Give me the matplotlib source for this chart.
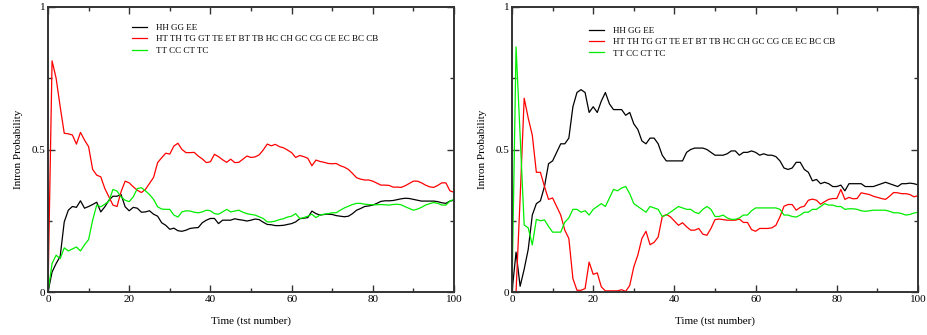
import numpy as np
import matplotlib
matplotlib.use("Agg")
import matplotlib.pyplot as plt
from matplotlib.ticker import MultipleLocator

plt.rcParams['font.family'] = ['Liberation Serif', 'DejaVu Serif']

time = list(range(101))

labels = ["HH GG EE",
          "HT TH TG GT TE ET BT TB HC CH GC CG CE EC BC CB",
          "TT CC CT TC"]
colors = ["#000000", "#ff0000", "#00ee00"]

# Run 1
run1_same = [0, 0.07, 0.10, 0.125, 0.246, 0.287, 0.30, 0.297, 0.32, 0.294,
             0.30, 0.307, 0.315, 0.281, 0.299, 0.322, 0.336, 0.336, 0.342, 0.299,
             0.285, 0.297, 0.294, 0.28, 0.281, 0.285, 0.273, 0.266, 0.243, 0.234,
             0.22, 0.224, 0.215, 0.213, 0.217, 0.223, 0.225, 0.226, 0.243, 0.252,
             0.258, 0.258, 0.24, 0.252, 0.252, 0.252, 0.257, 0.254, 0.252, 0.249,
             0.252, 0.256, 0.254, 0.245, 0.237, 0.236, 0.233, 0.233, 0.234, 0.237,
             0.24, 0.246, 0.257, 0.259, 0.261, 0.284, 0.275, 0.27, 0.272, 0.273,
             0.272, 0.268, 0.266, 0.264, 0.266, 0.275, 0.287, 0.293, 0.30, 0.302,
             0.305, 0.311, 0.318, 0.32, 0.32, 0.321, 0.324, 0.327, 0.329, 0.328,
             0.325, 0.322, 0.319, 0.319, 0.319, 0.319, 0.317, 0.313, 0.311, 0.319,
             0.322]
run1_mixed = [0, 0.811, 0.75, 0.65, 0.557, 0.555, 0.551, 0.519, 0.56, 0.533,
              0.51, 0.43, 0.41, 0.404, 0.363, 0.334, 0.305, 0.30, 0.352, 0.389,
              0.383, 0.369, 0.357, 0.349, 0.36, 0.381, 0.402, 0.454, 0.471, 0.487,
              0.484, 0.512, 0.522, 0.50, 0.489, 0.489, 0.49, 0.477, 0.467, 0.454,
              0.457, 0.483, 0.475, 0.464, 0.455, 0.466, 0.454, 0.455, 0.466, 0.477,
              0.472, 0.474, 0.481, 0.498, 0.519, 0.513, 0.518, 0.51, 0.506, 0.498,
              0.489, 0.472, 0.479, 0.475, 0.469, 0.443, 0.463, 0.458, 0.455, 0.451,
              0.45, 0.451, 0.443, 0.438, 0.43, 0.416, 0.401, 0.396, 0.393, 0.393,
              0.389, 0.382, 0.375, 0.375, 0.374, 0.368, 0.368, 0.367, 0.373, 0.381,
              0.389, 0.389, 0.383, 0.375, 0.369, 0.367, 0.374, 0.383, 0.383, 0.355,
              0.35]
run1_cross = [0, 0.10, 0.129, 0.117, 0.155, 0.144, 0.151, 0.158, 0.144, 0.166,
              0.184, 0.252, 0.305, 0.299, 0.308, 0.319, 0.36, 0.354, 0.334, 0.322,
              0.317, 0.334, 0.363, 0.366, 0.355, 0.342, 0.325, 0.299, 0.291, 0.29,
              0.29, 0.27, 0.263, 0.281, 0.285, 0.284, 0.28, 0.278, 0.281, 0.287,
              0.285, 0.275, 0.273, 0.281, 0.29, 0.281, 0.284, 0.287, 0.28, 0.275,
              0.272, 0.27, 0.264, 0.258, 0.246, 0.246, 0.249, 0.254, 0.257, 0.263,
              0.266, 0.275, 0.258, 0.261, 0.266, 0.273, 0.261, 0.27, 0.273, 0.275,
              0.278, 0.278, 0.287, 0.295, 0.301, 0.307, 0.311, 0.311, 0.308, 0.307,
              0.306, 0.306, 0.307, 0.306, 0.305, 0.307, 0.308, 0.306, 0.299, 0.293,
              0.287, 0.291, 0.297, 0.305, 0.31, 0.314, 0.311, 0.305, 0.305, 0.319,
              0.325]

# Run 2
run2_same = [0, 0.14, 0.02, 0.08, 0.15, 0.27, 0.31, 0.32, 0.37, 0.45,
             0.46, 0.49, 0.52, 0.52, 0.54, 0.65, 0.70, 0.71, 0.70, 0.63,
             0.65, 0.63, 0.67, 0.70, 0.66, 0.64, 0.64, 0.64, 0.62, 0.63,
             0.59, 0.57, 0.53, 0.52, 0.54, 0.54, 0.52, 0.48, 0.46, 0.46,
             0.46, 0.46, 0.46, 0.49, 0.50, 0.505, 0.505, 0.505, 0.50, 0.49,
             0.48, 0.48, 0.48, 0.485, 0.495, 0.495, 0.48, 0.49, 0.49, 0.495,
             0.49, 0.48, 0.485, 0.48, 0.48, 0.475, 0.46, 0.435, 0.43, 0.435,
             0.455, 0.455, 0.43, 0.42, 0.39, 0.395, 0.38, 0.385, 0.38, 0.37,
             0.37, 0.375, 0.355, 0.38, 0.38, 0.38, 0.38, 0.37, 0.37, 0.37,
             0.375, 0.38, 0.385, 0.38, 0.375, 0.37, 0.38, 0.38, 0.382, 0.38,
             0.376]
run2_mixed = [0, 0.0, 0.33, 0.68, 0.61, 0.55, 0.42, 0.42, 0.37, 0.325,
              0.33, 0.30, 0.27, 0.217, 0.188, 0.047, 0.006, 0.006, 0.012, 0.105,
              0.062, 0.067, 0.018, 0.004, 0.004, 0.004, 0.004, 0.008, 0.002, 0.023,
              0.088, 0.13, 0.188, 0.213, 0.166, 0.174, 0.193, 0.264, 0.272, 0.264,
              0.249, 0.234, 0.243, 0.229, 0.217, 0.217, 0.223, 0.203, 0.199, 0.223,
              0.254, 0.256, 0.254, 0.252, 0.252, 0.252, 0.256, 0.244, 0.244, 0.219,
              0.213, 0.223, 0.223, 0.223, 0.225, 0.234, 0.264, 0.301, 0.307, 0.307,
              0.287, 0.297, 0.301, 0.322, 0.326, 0.322, 0.308, 0.317, 0.325, 0.328,
              0.328, 0.36, 0.325, 0.332, 0.327, 0.328, 0.348, 0.345, 0.342, 0.336,
              0.332, 0.328, 0.325, 0.336, 0.349, 0.348, 0.345, 0.345, 0.342, 0.334,
              0.338]
run2_cross = [0, 0.86, 0.55, 0.235, 0.225, 0.165, 0.255, 0.25, 0.253, 0.23,
              0.21, 0.21, 0.21, 0.245, 0.26, 0.29, 0.29, 0.28, 0.285, 0.27,
              0.29, 0.30, 0.31, 0.30, 0.33, 0.36, 0.355, 0.365, 0.37, 0.345,
              0.31, 0.30, 0.29, 0.28, 0.30, 0.295, 0.29, 0.265, 0.27, 0.28,
              0.29, 0.30, 0.295, 0.29, 0.29, 0.28, 0.275, 0.29, 0.30, 0.29,
              0.265, 0.265, 0.27, 0.26, 0.255, 0.255, 0.26, 0.27, 0.27, 0.285,
              0.295, 0.295, 0.295, 0.295, 0.295, 0.295, 0.29, 0.27, 0.27, 0.265,
              0.263, 0.27, 0.28, 0.28, 0.29, 0.29, 0.30, 0.31, 0.305, 0.305,
              0.30, 0.30, 0.29, 0.292, 0.292, 0.29, 0.285, 0.283, 0.285, 0.287,
              0.287, 0.287, 0.287, 0.283, 0.278, 0.278, 0.275, 0.27, 0.272, 0.277,
              0.28]

x_ticks = [0, 20, 40, 60, 80, 100]
y_ticks = [0, 0.5, 1]
y_tick_labels = ["0", "0.5", "1"]

fig = plt.figure(figsize=(9.27, 3.35), dpi=100)
ax1 = fig.add_axes([48 / 927, 43 / 335, 406 / 927, 285 / 335])
ax2 = fig.add_axes([512 / 927, 43 / 335, 406 / 927, 285 / 335])

panels = [
    (ax1, [run1_same, run1_mixed, run1_cross], (0.207, 0.942)),
    (ax2, [run2_same, run2_mixed, run2_cross], (0.190, 0.932)),
]

fs = 8
for ax, series, anchor in panels:
    for vals, lab, col in zip(series, labels, colors):
        ax.plot(time, vals, color=col, lw=0.9, label=lab)
    ax.set_xlim(0, 100)
    ax.set_ylim(0, 1)
    ax.set_xticks(x_ticks)
    ax.set_yticks(y_ticks)
    ax.set_yticklabels(y_tick_labels)
    ax.xaxis.set_minor_locator(MultipleLocator(10))
    ax.yaxis.set_minor_locator(MultipleLocator(0.25))
    ax.tick_params(which="both", direction="in", top=True, right=True,
                   labelsize=fs, color="#333333", pad=2)
    ax.tick_params(which="major", length=5, width=1.0)
    ax.tick_params(which="minor", length=3, width=1.0)
    for sp in ax.spines.values():
        sp.set_linewidth(1.4)
        sp.set_color("#333333")
    ax.set_xlabel("Time (tst number)", fontsize=fs, labelpad=9)
    ax.set_ylabel("Intron Probability", fontsize=fs, labelpad=6)
    ax.legend(loc="upper left", bbox_to_anchor=anchor, frameon=False,
              fontsize=6.5, handlelength=1.7, handletextpad=0.9,
              labelspacing=0.35, borderpad=0, borderaxespad=0)

fig.savefig("out.png", dpi=100)
